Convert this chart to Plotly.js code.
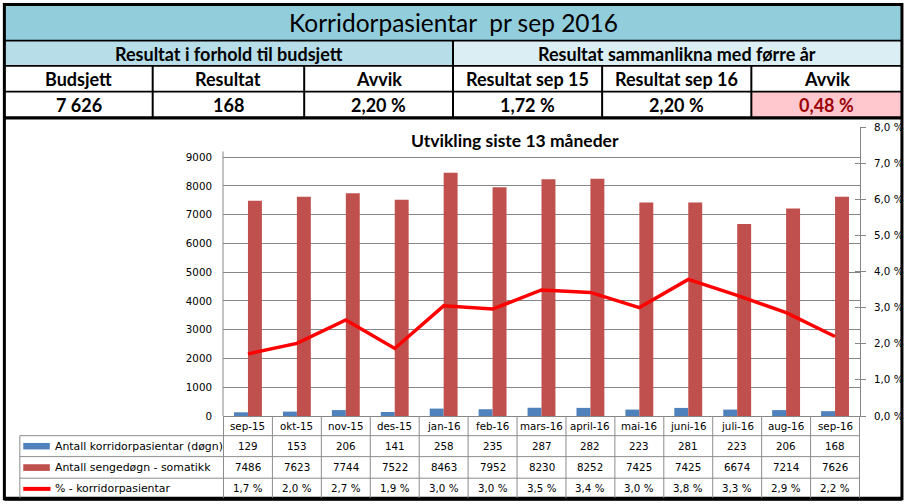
<!DOCTYPE html>
<html>
<head>
<meta charset="utf-8">
<script src="https://cdn.plot.ly/plotly-3.0.1.min.js"></script>
<style>html,body{margin:0;padding:0;background:#fff;}#chart{width:905px;height:504px;}</style>
</head>
<body>
<div id="chart"></div>
<script>
// ---- data ----
const months = ["sep-15","okt-15","nov-15","des-15","jan-16","feb-16","mars-16","april-16","mai-16","juni-16","juli-16","aug-16","sep-16"];
const korridor = [129,153,206,141,258,235,287,282,223,281,223,206,168];
const sengedogn = [7486,7623,7744,7522,8463,7952,8230,8252,7425,7425,6674,7214,7626];
const pct = [1.72,2.01,2.66,1.87,3.05,2.96,3.49,3.42,3.00,3.78,3.34,2.86,2.20];
const pctLabels = ["1,7 %","2,0 %","2,7 %","1,9 %","3,0 %","3,0 %","3,5 %","3,4 %","3,0 %","3,8 %","3,3 %","2,9 %","2,2 %"];
const seriesNames = ["Antall korridorpasientar (døgn)","Antall sengedøgn - somatikk","% - korridorpasientar"];
const chartTitle = "Utvikling siste 13 måneder";
const headerTitle = "Korridorpasientar  pr sep 2016";
const groupLabels = ["Resultat i forhold til budsjett","Resultat sammanlikna med førre år"];
const headerCols = ["Budsjett","Resultat","Avvik","Resultat sep 15","Resultat sep 16","Avvik"];
const headerVals = ["7 626","168","2,20 %","1,72 %","2,20 %","0,48 %"];
const leftTicks = [0,1000,2000,3000,4000,5000,6000,7000,8000,9000];
const rightTickVals = [0,1,2,3,4,5,6,7,8];
const rightTickText = ["0,0 %","1,0 %","2,0 %","3,0 %","4,0 %","5,0 %","6,0 %","7,0 %","8,0 %"];

// ---- geometry (pixels) ----
const W = 905, H = 504;
const L = 222.7, R = 860.5, T = 126.5, B = 416;
const px = v => (v - L) / (R - L);
const py = v => (B - v) / (B - T);

const numFont = {family: "DejaVu Sans, Verdana, sans-serif", size: 10.3, color: "#000"};
const hdrFont = {family: "Lato, Calibri, sans-serif", size: 18, color: "#000", weight: 700};
const gridC = "#868686";
const tblC = "#8c8c8c";

const shapes = [];
const ann = [];
function rectPx(x0, y0, x1, y1, fill, lineColor, lw) {
  shapes.push({type: "rect", xref: "paper", yref: "paper", x0: px(x0), x1: px(x1), y0: py(y0), y1: py(y1),
    fillcolor: fill || "rgba(0,0,0,0)", line: {color: lineColor || "rgba(0,0,0,0)", width: lw || 0}});
}
function linePx(x0, y0, x1, y1, color, lw) {
  shapes.push({type: "line", xref: "paper", yref: "paper", x0: px(x0), x1: px(x1), y0: py(y0), y1: py(y1),
    line: {color: color, width: lw}});
}
function textPx(x, y, text, font, xanchor) {
  ann.push({xref: "paper", yref: "paper", x: px(x), y: py(y), text: text, showarrow: false,
    xanchor: xanchor || "center", yanchor: "middle", font: font});
}

// ---- header block ----
const fL = 3.8, fR = 902.5, fT = 3.8;
const rowY = [fT, 40, 65.3, 91, 117.3];
const colX = [fL, 152.3, 304, 453, 602.3, 751.7, fR];
rectPx(fL, rowY[0], fR, rowY[1], "#92CDDC");
rectPx(fL, rowY[1], 453, rowY[2], "#B7DEE8");
rectPx(453, rowY[1], fR, rowY[2], "#DAEEF3");
rectPx(colX[5], rowY[3], fR, rowY[4], "#FFC7CE");
linePx(fL, rowY[1], fR, rowY[1], "#000", 1.8);
linePx(fL, rowY[2], fR, rowY[2], "#000", 1.8);
linePx(fL, rowY[3], fR, rowY[3], "#000", 1.8);
linePx(453, rowY[1], 453, rowY[4], "#000", 2);
[1, 2, 4, 5].forEach(i => linePx(colX[i], rowY[2], colX[i], rowY[4], "#000", 2));
linePx(fL, rowY[4], fR, rowY[4], "#000", 3.2);
// outer frame
rectPx(fL, fT, fR, 498.8, null, "#000", 3);
linePx(fL, 498.8, fR, 498.8, "#000", 4);

textPx(453, 22, headerTitle, {family: "Lato, Calibri, sans-serif", size: 24.5, color: "#000"});
textPx((fL + 453) / 2, 53, groupLabels[0], hdrFont);
textPx((453 + fR) / 2, 53, groupLabels[1], hdrFont);
headerCols.forEach((t, i) => textPx((colX[i] + colX[i + 1]) / 2, 78.5, t, hdrFont));
headerVals.forEach((t, i) => textPx((colX[i] + colX[i + 1]) / 2, 104.5, t,
  i === 5 ? Object.assign({}, hdrFont, {color: "#9C0006"}) : hdrFont));

// ---- chart title ----
textPx(515, 140, chartTitle, {family: "Lato, Calibri, sans-serif", size: 17.5, color: "#000", weight: 700});

// ---- data table below chart ----
const tblRows = [435.7, 456.7, 478.3];
const tblBottom = 498;
tblRows.forEach(y => linePx(19.3, y, R, y, tblC, 1));
linePx(19.3, tblRows[0], 19.3, tblBottom, tblC, 1);
for (let k = 0; k <= months.length; k++) {
  shapes.push({type: "line", xref: "x", yref: "paper", x0: k - 0.5, x1: k - 0.5, y0: py(B), y1: py(tblBottom),
    line: {color: tblC, width: 1}});
}
// left axis line (stops just above the 9000 gridline)
shapes.push({type: "line", xref: "paper", yref: "y", x0: 0, x1: 0, y0: 0, y1: 9200, line: {color: gridC, width: 1}});

// legend keys
rectPx(22.7, 443, 49.3, 449.5, "#4F81BD");
rectPx(22.7, 464.3, 49.3, 471, "#C0504D");
linePx(22.7, 489, 50, 489, "#FF0000", 4);
const legFont = {family: "DejaVu Sans, Verdana, sans-serif", size: 10.9, color: "#000"};
textPx(52.3, 446.3, seriesNames[0], legFont, "left");
textPx(52.3, 467.5, seriesNames[1], legFont, "left");
textPx(52.3, 488.5, seriesNames[2], legFont, "left");

const rowTextY = [426.5, 446.5, 467.5, 488.5];
months.forEach((m, i) => {
  ann.push({xref: "x", yref: "paper", x: m, y: py(rowTextY[0]), text: m, showarrow: false, yanchor: "middle", font: numFont});
  ann.push({xref: "x", yref: "paper", x: m, y: py(rowTextY[1]), text: String(korridor[i]), showarrow: false, yanchor: "middle", font: numFont});
  ann.push({xref: "x", yref: "paper", x: m, y: py(rowTextY[2]), text: String(sengedogn[i]), showarrow: false, yanchor: "middle", font: numFont});
  ann.push({xref: "x", yref: "paper", x: m, y: py(rowTextY[3]), text: pctLabels[i], showarrow: false, yanchor: "middle", font: numFont});
});

// ---- traces ----
const traces = [
  {type: "bar", x: months, y: korridor, name: seriesNames[0], marker: {color: "#4F81BD"}, yaxis: "y", hoverinfo: "x+y"},
  {type: "bar", x: months, y: sengedogn, name: seriesNames[1], marker: {color: "#C0504D"}, yaxis: "y", hoverinfo: "x+y"},
  {type: "scatter", mode: "lines", x: months, y: pct, name: seriesNames[2], line: {color: "#FF0000", width: 3.5}, yaxis: "y2"},
  {type: "scatter", mode: "lines", x: months, y: pct, yaxis: "y3", showlegend: false, hoverinfo: "skip", line: {width: 0}, opacity: 0}
];

const layout = {
  width: W, height: H,
  margin: {l: L, r: W - R, t: T, b: H - B, autoexpand: false},
  paper_bgcolor: "#fff", plot_bgcolor: "#fff",
  showlegend: false,
  barmode: "group", bargap: 0.43, bargroupgap: 0,
  xaxis: {type: "category", showticklabels: false, ticks: "", showgrid: false, zeroline: false,
    showline: true, linecolor: gridC, linewidth: 1, fixedrange: true},
  yaxis: {range: [0, 10050], tickvals: leftTicks, ticktext: leftTicks.map(String), showgrid: true, gridcolor: gridC, gridwidth: 1,
    zeroline: false, showline: false, ticks: "", ticklabelstandoff: 10,
    tickfont: numFont, fixedrange: true},
  yaxis2: {overlaying: "y", side: "right", range: [0, 8], tickvals: rightTickVals, ticktext: rightTickText,
    showgrid: false, zeroline: false, showline: true, linecolor: gridC, linewidth: 1,
    ticks: "outside", ticklen: 5, tickcolor: gridC, ticklabelstandoff: 6, tickfont: numFont, fixedrange: true},
  yaxis3: {overlaying: "y", side: "right", range: [0, 8], tickvals: rightTickVals, showticklabels: false,
    showgrid: false, zeroline: false, showline: false, ticks: "inside", ticklen: 5, tickcolor: gridC, fixedrange: true},
  shapes: shapes,
  annotations: ann
};

Plotly.newPlot("chart", traces, layout, {displayModeBar: false, staticPlot: true});
</script>
</body>
</html>
